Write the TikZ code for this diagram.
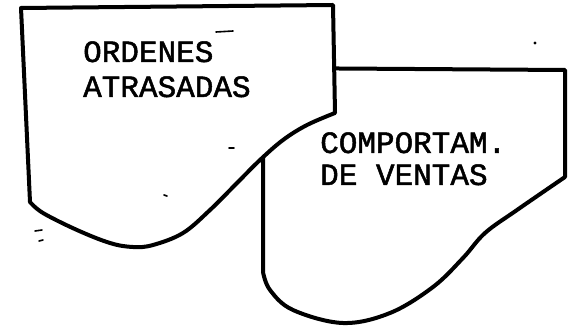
\documentclass[tikz,border=0pt]{standalone}
\usepackage{fontspec}
\newfontfamily\plotfont[FakeBold=1.6]{Liberation Mono}
\begin{document}
\begin{tikzpicture}[x=1pt,y=-1pt,
  doc/.style={draw=black,fill=white,line width=4pt,line join=round},
  lbl/.style={font=\plotfont\fontsize{31}{31}\selectfont,inner sep=0pt,anchor=base west},
  speck/.style={line width=1.6pt,line cap=round}]
\useasboundingbox[fill=white] (0,0) rectangle (580,328);
% back document
\draw[doc] (263,68) -- (565,70) -- (565,177)
  -- plot[smooth,tension=0.6] coordinates {(565,177) (517,210) (485,233) (463,258) (433,287) (390,313) (343,323) (293,310) (270,290) (263,272)}
  -- cycle;
% front document
\draw[doc] (21,8) -- (333,5) -- (335,113)
  -- plot[smooth,tension=0.6] coordinates {(335,113) (307,125) (283,140) (260,160) (237,183) (210,210) (183,233) (153,245) (133,247) (110,243) (77,230) (43,213) (30,202)}
  -- cycle;
\node[lbl] (o1) at (83,62) {ORDENES};
\node[lbl] (o2) at (83,97) {ATRASADAS};
\node[lbl] (c1) at (320,153) {COMPORTAM.};
\node[lbl] (c2) at (320,185) {DE VENTAS};
% scan specks
\draw[speck] (216,32) -- (233,31);
\draw[speck] (229,148) -- (234,148);
\draw[speck] (164,195) -- (167,196);
\draw[speck] (35,231) -- (42,230);
\draw[speck] (39,241) -- (43,240);
\fill (535,43) circle (1.6);
\end{tikzpicture}
\end{document}
